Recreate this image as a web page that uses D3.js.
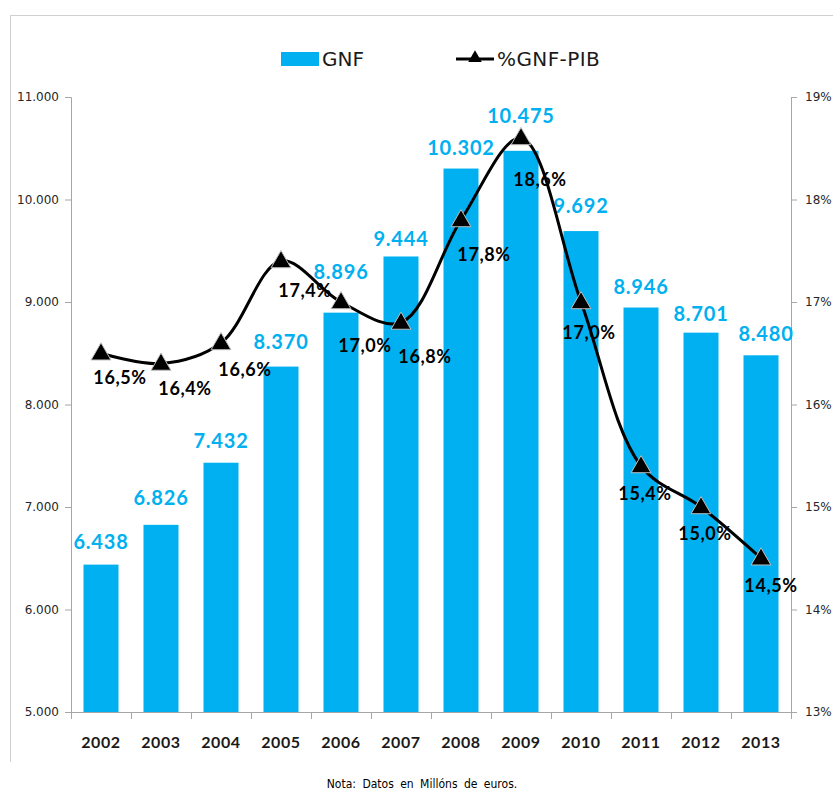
<!DOCTYPE html>
<html>
<head>
<meta charset="utf-8">
<script src="https://cdn.jsdelivr.net/npm/d3@7"></script>
<style>
  html, body { margin: 0; padding: 0; background: #fff; }
  svg { display: block; }
</style>
</head>
<body>
<script>
// ---- data ----
const years = ["2002","2003","2004","2005","2006","2007","2008","2009","2010","2011","2012","2013"];
const gnf = [6438, 6826, 7432, 8370, 8896, 9444, 10302, 10475, 9692, 8946, 8701, 8480];
const pctGnfPib = [16.5, 16.4, 16.6, 17.4, 17.0, 16.8, 17.8, 18.6, 17.0, 15.4, 15.0, 14.5];
const leftTicks = [5000, 6000, 7000, 8000, 9000, 10000, 11000];
const rightTicks = [13, 14, 15, 16, 17, 18, 19];
const seriesNames = ["GNF", "%GNF-PIB"];
const note = "Nota: Datos en Millóns de euros.";

// ---- label layout nudges (pixels) ----
const barLabelDy = [-2, -6, -1, -4, -20, 4, 0, -14, -4, 0, 2, 0];
const barLabelDx = [0, 0, 0, 0, 0, 0, 0, 0, 0, 0, 0, 5];
const pctLabelDx = [19, 24, 24, 24, 24, 24, 23, 19, 8, 4, 4, 10];
const pctLabelDy = [25, 25, 27, 30, 44, 34, 35, 42, 31, 28, 27, 28];

const W = 833, H = 791;
const blue = "#00B0F0";
const loc = d3.formatLocale({decimal: ",", thousands: ".", grouping: [3], currency: ["", "€"]});
const fmtInt = loc.format(",d");
const fmtPct = v => loc.format(".1f")(v) + "%";

const svg = d3.select("body").append("svg").attr("width", W).attr("height", H);

// frame lines
svg.append("line").attr("x1", 10.5).attr("x2", W).attr("y1", 15.5).attr("y2", 15.5)
  .attr("stroke", "#d0d0d0").attr("stroke-width", 1);
svg.append("line").attr("x1", 10.5).attr("x2", 10.5).attr("y1", 15.5).attr("y2", 762)
  .attr("stroke", "#d0d0d0").attr("stroke-width", 1);

const plot = {left: 71, right: 791, top: 97, bottom: 712};

const x = d3.scaleBand().domain(years).range([plot.left, plot.right]).paddingInner(0.4167).paddingOuter(0.2083);
const yL = d3.scaleLinear().domain([5000, 11000]).range([plot.bottom, plot.top]);
const yR = d3.scaleLinear().domain([13, 19]).range([plot.bottom, plot.top]);
const xc = d => x(d) + x.bandwidth() / 2;

// bars
svg.append("g").selectAll("rect").data(years).join("rect")
  .attr("x", d => x(d))
  .attr("y", (d, i) => yL(gnf[i]))
  .attr("width", x.bandwidth())
  .attr("height", (d, i) => plot.bottom - yL(gnf[i]))
  .attr("fill", blue);

// left axis
const axisColor = "#a6a6a6";
const gL = svg.append("g").attr("transform", `translate(${plot.left},0)`)
  .call(d3.axisLeft(yL).tickValues(leftTicks).tickFormat(fmtInt).tickSize(6).tickPadding(6));
// right axis
const gR = svg.append("g").attr("transform", `translate(${plot.right},0)`)
  .call(d3.axisRight(yR).tickValues(rightTicks).tickFormat(d => d + "%").tickSize(6).tickPadding(8));
[gL, gR].forEach(g => {
  g.select(".domain").attr("stroke", axisColor);
  g.selectAll(".tick line").attr("stroke", axisColor);
  g.selectAll(".tick text").attr("fill", "#262626")
    .style("font-family", "'DejaVu Sans', Verdana, sans-serif").style("font-size", "12px");
});

// x axis
const gX = svg.append("g").attr("transform", `translate(0,${plot.bottom})`);
gX.append("line").attr("x1", plot.left).attr("x2", plot.right).attr("y1", 0.5).attr("y2", 0.5)
  .attr("stroke", axisColor);
const boundaries = d3.range(years.length + 1).map(i => plot.left + i * x.step());
gX.selectAll("line.tk").data(boundaries).join("line").attr("class", "tk")
  .attr("x1", d => Math.round(d) + 0.5).attr("x2", d => Math.round(d) + 0.5)
  .attr("y1", 0).attr("y2", 7).attr("stroke", axisColor);
gX.selectAll("text").data(years).join("text")
  .attr("x", d => xc(d)).attr("y", 36)
  .attr("text-anchor", "middle")
  .style("font-family", "Lato, 'Open Sans', sans-serif").style("font-size", "16px")
  .style("font-weight", "bold").style("letter-spacing", "0.6px").attr("fill", "#1a1a1a")
  .text(d => d);

// bar value labels
svg.append("g").selectAll("text").data(years).join("text")
  .attr("x", (d, i) => xc(d) + barLabelDx[i])
  .attr("y", (d, i) => yL(gnf[i]) - 14 + barLabelDy[i])
  .attr("text-anchor", "middle")
  .style("font-family", "Lato, 'Open Sans', sans-serif").style("font-size", "20px")
  .style("font-weight", "bold").style("letter-spacing", "0.8px")
  .attr("fill", blue)
  .text((d, i) => fmtInt(gnf[i]));

// pct labels
svg.append("g").selectAll("text").data(years).join("text")
  .attr("x", (d, i) => xc(d) + pctLabelDx[i])
  .attr("y", (d, i) => yR(pctGnfPib[i]) + pctLabelDy[i] + 6)
  .attr("text-anchor", "middle")
  .style("font-family", "Lato, 'Open Sans', sans-serif").style("font-size", "18px")
  .style("font-weight", "bold").style("letter-spacing", "0.6px")
  .attr("fill", "#000")
  .text((d, i) => fmtPct(pctGnfPib[i]));

// line
const line = d3.line().x(d => xc(d)).y((d, i) => yR(pctGnfPib[i])).curve(d3.curveCatmullRom.alpha(0.5));
svg.append("path").datum(years).attr("d", line)
  .attr("fill", "none").attr("stroke", "#000").attr("stroke-width", 3);

// markers
const tri = d3.symbol().type(d3.symbolTriangle).size(170);
svg.append("g").selectAll("path").data(years).join("path")
  .attr("transform", (d, i) => `translate(${xc(d)},${yR(pctGnfPib[i]) + 1})`)
  .attr("d", tri)
  .attr("fill", "#000").attr("stroke", "#bfbfbf").attr("stroke-width", 1);

// legend
const lg = svg.append("g");
lg.append("rect").attr("x", 281).attr("y", 52).attr("width", 38).attr("height", 14).attr("fill", blue);
lg.append("text").attr("x", 322).attr("y", 66).text(seriesNames[0])
  .style("font-family", "'DejaVu Sans', Verdana, sans-serif").style("font-size", "20px").attr("fill", "#1a1a1a");
lg.append("line").attr("x1", 456).attr("x2", 494).attr("y1", 59).attr("y2", 59)
  .attr("stroke", "#000").attr("stroke-width", 3);
lg.append("path").attr("transform", "translate(475,58)").attr("d", d3.symbol().type(d3.symbolTriangle).size(80))
  .attr("fill", "#000");
lg.append("text").attr("x", 497).attr("y", 66).text(seriesNames[1])
  .style("font-family", "'DejaVu Sans', Verdana, sans-serif").style("font-size", "20px")
  .style("letter-spacing", "0.4px").attr("fill", "#1a1a1a");

// note
svg.append("text").attr("x", 422).attr("y", 788).attr("text-anchor", "middle")
  .style("font-family", "'DejaVu Sans Condensed', 'DejaVu Sans', sans-serif")
  .style("font-stretch", "condensed")
  .style("font-size", "12px").style("word-spacing", "3px").attr("fill", "#000")
  .text(note);
</script>
</body>
</html>
